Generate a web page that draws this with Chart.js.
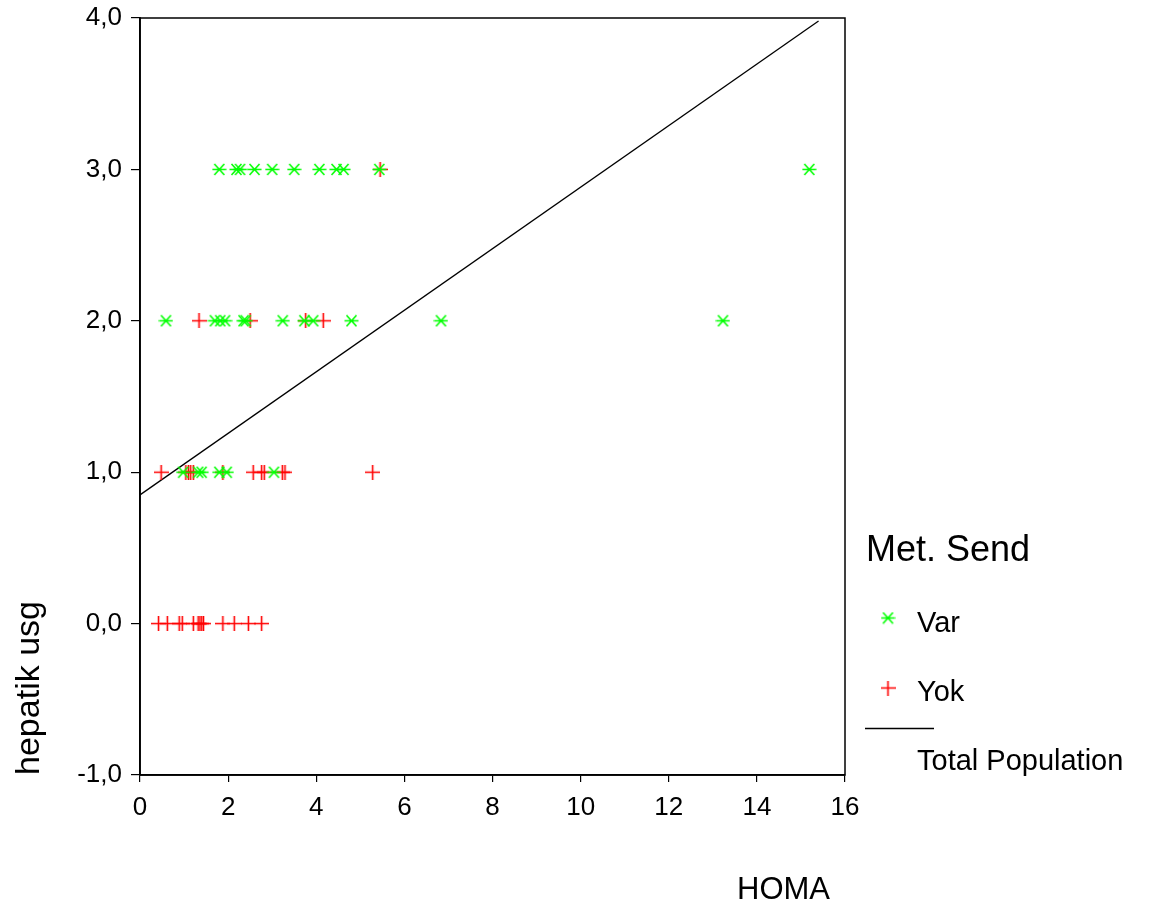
<!DOCTYPE html>
<html>
<head>
<meta charset="utf-8">
<script src="https://cdn.jsdelivr.net/npm/chart.js@4"></script>
<style>
  html, body { margin: 0; padding: 0; background: #fff; }
  #wrap { width: 1149px; height: 911px; position: relative; }
</style>
</head>
<body>
<div id="wrap"><canvas id="c" width="1149" height="911"></canvas></div>
<script>
// ---- data ----
const varHoma = [1.80, 2.19, 2.27, 2.60, 3.00, 3.50, 4.07, 4.46, 4.62, 5.43, 15.19,
                 0.59, 1.70, 1.82, 1.93, 2.35, 2.40, 3.24, 3.73, 3.93, 4.80, 6.83, 13.23,
                 0.98, 1.32, 1.40, 1.80, 1.97, 3.04];
const varUsg  = [3, 3, 3, 3, 3, 3, 3, 3, 3, 3, 3,
                 2, 2, 2, 2, 2, 2, 2, 2, 2, 2, 2, 2,
                 1, 1, 1, 1, 1, 1];
const yokHoma = [5.45,
                 1.34, 2.50, 3.76, 4.16,
                 0.48, 1.04, 1.10, 1.15, 1.21, 1.88, 2.57, 2.76, 2.82, 3.23, 3.29, 5.28,
                 0.42, 0.62, 0.89, 0.96, 1.21, 1.32, 1.36, 1.40, 1.44, 1.88, 2.14, 2.46, 2.76];
const yokUsg  = [3,
                 2, 2, 2, 2,
                 1, 1, 1, 1, 1, 1, 1, 1, 1, 1, 1, 1,
                 0, 0, 0, 0, 0, 0, 0, 0, 0, 0, 0, 0, 0];
const fitHoma = [0, 15.4];
const fitUsg  = [0.85, 3.98];
const xTicks = [0, 2, 4, 6, 8, 10, 12, 14, 16];
const yTicks = [-1, 0, 1, 2, 3, 4];
const seriesNames = ['Var', 'Yok'];
const legendTitle = 'Met. Send';
const fitName = 'Total Population';
const xTitle = 'HOMA';
const yTitle = 'hepatik usg';

const GREEN = '#00ff00';
const RED = '#ff0000';
const FONT = '"Liberation Sans", Arial, sans-serif';

function makeStar() {
  const c = document.createElement('canvas');
  c.width = 15; c.height = 13;
  const g = c.getContext('2d');
  g.strokeStyle = GREEN; g.lineWidth = 1.6;
  g.beginPath();
  g.moveTo(0.5, 6.5); g.lineTo(14.5, 6.5);
  g.moveTo(2.5, 1); g.lineTo(12.5, 12);
  g.moveTo(2.5, 12); g.lineTo(12.5, 1);
  g.stroke();
  return c;
}
function makePlus() {
  const c = document.createElement('canvas');
  c.width = 15; c.height = 15;
  const g = c.getContext('2d');
  g.strokeStyle = RED; g.lineWidth = 1.6;
  g.beginPath();
  g.moveTo(0, 7.5); g.lineTo(15, 7.5);
  g.moveTo(7.5, 0); g.lineTo(7.5, 15);
  g.stroke();
  return c;
}
const starImg = makeStar();
const plusImg = makePlus();

const toPts = (xs, ys) => xs.map((x, i) => ({ x: x, y: ys[i] }));

const extras = {
  id: 'extras',
  afterDraw(chart) {
    const ctx = chart.ctx;
    const a = chart.chartArea;
    ctx.save();
    // frame
    ctx.strokeStyle = '#000';
    ctx.lineWidth = 1.5;
    ctx.strokeRect(a.left, a.top, a.right - a.left, a.bottom - a.top);
    // legend
    ctx.fillStyle = '#000';
    ctx.textAlign = 'left';
    ctx.textBaseline = 'alphabetic';
    ctx.font = '36px ' + FONT;
    ctx.fillText(legendTitle, 866, 561);
    ctx.drawImage(starImg, 888 - starImg.width / 2, 618 - starImg.height / 2);
    ctx.drawImage(plusImg, 888 - plusImg.width / 2, 688 - plusImg.height / 2);
    ctx.font = '29px ' + FONT;
    ctx.fillText(seriesNames[0], 917, 632);
    ctx.fillText(seriesNames[1], 917, 701);
    ctx.beginPath();
    ctx.lineWidth = 1.3;
    ctx.moveTo(865, 728.5); ctx.lineTo(934, 728.5);
    ctx.stroke();
    ctx.fillText(fitName, 917, 770);
    // axis titles
    ctx.font = '31px ' + FONT;
    ctx.fillText(xTitle, 737, 899);
    ctx.save();
    ctx.translate(39, 688);
    ctx.rotate(-Math.PI / 2);
    ctx.textAlign = 'center';
    ctx.font = '34px ' + FONT;
    ctx.fillText(yTitle, 0, 0);
    ctx.restore();
    ctx.restore();
  }
};

new Chart(document.getElementById('c'), {
  type: 'scatter',
  data: {
    datasets: [
      { label: seriesNames[0], data: toPts(varHoma, varUsg), pointStyle: starImg, pointRadius: 6, pointHoverRadius: 6 },
      { label: seriesNames[1], data: toPts(yokHoma, yokUsg), pointStyle: plusImg, pointRadius: 7, pointHoverRadius: 7 },
      { type: 'line', label: fitName, data: toPts(fitHoma, fitUsg), borderColor: '#000', borderWidth: 1.3,
        pointRadius: 0, fill: false, showLine: true, tension: 0 }
    ]
  },
  options: {
    responsive: false,
    animation: false,
    devicePixelRatio: 1,
    layout: { padding: { top: 18, right: 304, left: 0, bottom: 0 } },
    plugins: { legend: { display: false }, tooltip: { enabled: false } },
    scales: {
      x: {
        type: 'linear', min: 0, max: 16,
        afterBuildTicks: (s) => { s.ticks = xTicks.map(v => ({ value: v })); },
        afterFit: (s) => { s.height = 136; s.paddingLeft = 0; s.paddingRight = 0; },
        border: { display: true, color: '#000', width: 1.8 },
        grid: { display: true, drawOnChartArea: false, drawTicks: true, tickLength: 7, color: '#000', lineWidth: 1.2 },
        ticks: { color: '#000', font: { family: FONT, size: 26 }, padding: 10, maxRotation: 0,
                 callback: (v) => String(v) }
      },
      y: {
        type: 'linear', min: -1, max: 4,
        afterBuildTicks: (s) => { s.ticks = yTicks.map(v => ({ value: v })); },
        afterFit: (s) => { s.width = 140; s.paddingTop = 0; s.paddingBottom = 0; },
        border: { display: true, color: '#000', width: 1.8 },
        grid: { display: true, drawOnChartArea: false, drawTicks: true, tickLength: 9, color: '#000', lineWidth: 1.2 },
        ticks: { color: '#000', font: { family: FONT, size: 26 }, padding: 9,
                 callback: (v) => v.toFixed(1).replace('.', ',') }
      }
    }
  },
  plugins: [extras]
});
</script>
</body>
</html>
